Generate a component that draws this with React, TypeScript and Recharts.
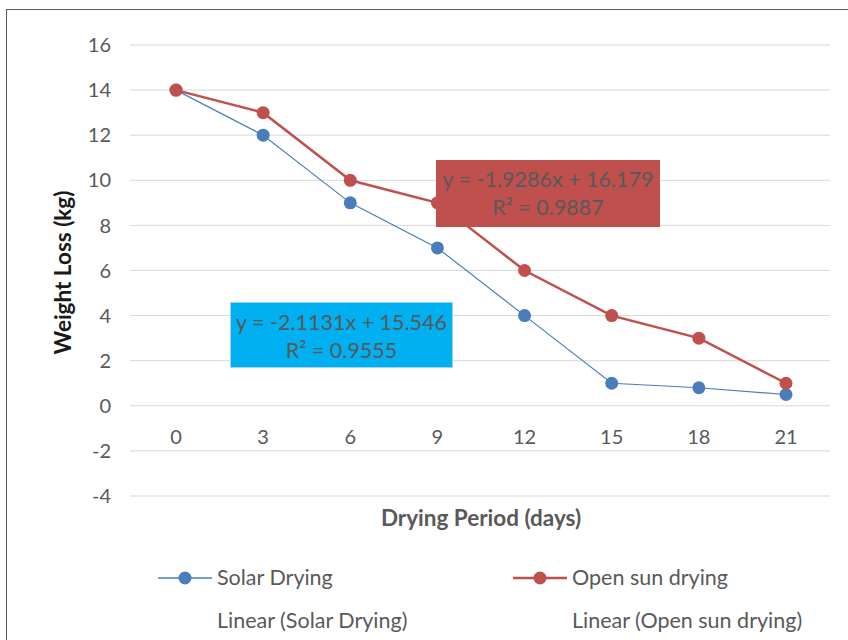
import React from "react";
import { LineChart, Line, XAxis, YAxis, CartesianGrid } from "recharts";

const days = [0, 3, 6, 9, 12, 15, 18, 21];
const solarDrying = [14, 12, 9, 7, 4, 1, 0.8, 0.5];
const openSunDrying = [14, 13, 10, 9, 6, 4, 3, 1];
const yTicks = [-4, -2, 0, 2, 4, 6, 8, 10, 12, 14, 16];
const seriesNames = ["Solar Drying", "Open sun drying"];
const trendNames = ["Linear (Solar Drying)", "Linear (Open sun drying)"];
const solarEq = ["y = -2.1131x + 15.546", "R² = 0.9555"];
const openEq = ["y = -1.9286x + 16.179", "R² = 0.9887"];

const data = days.map((d, i) => ({ day: d, solar: solarDrying[i], open: openSunDrying[i] }));

const FONT = "Lato, 'Open Sans', sans-serif";
const GRAY = "#595959";
const BLUE = "#4a7ebb";
const RED = "#c0504d";

const W = 848;
const H = 640;
const M = { top: 45, right: 18, left: 50, bottom: 114 };
const X_AXIS_H = 30;
const PLOT_H = H - M.top - M.bottom - X_AXIS_H;
const Y_MIN = -4;
const Y_MAX = 16;
const ZERO_OFFSET = (PLOT_H * (0 - Y_MIN)) / (Y_MAX - Y_MIN);

const XTick = (props: any) => {
  const { x, y, payload } = props;
  return (
    <text x={x} y={y - ZERO_OFFSET + 38} textAnchor="middle" fill={GRAY} fontSize={20} fontFamily={FONT}>
      {payload.value}
    </text>
  );
};

const ChartLegend = () => {
  const items = [
    { name: seriesNames[0], trend: trendNames[0], color: BLUE, width: 1.5, x: 158 },
    { name: seriesNames[1], trend: trendNames[1], color: RED, width: 2.5, x: 513 },
  ];
  return (
    <svg width={W} height={90} style={{ position: "absolute", left: 0, top: 555, display: "block" }}>
      {items.map((it) => (
        <g key={it.name}>
          <line x1={it.x} x2={it.x + 54} y1={23} y2={23} stroke={it.color} strokeWidth={it.width} />
          <circle cx={it.x + 27} cy={23} r={6.5} fill={it.color} />
          <text x={it.x + 59} y={30} fill={GRAY} fontSize={21.5} fontFamily={FONT}>
            {it.name}
          </text>
          <text x={it.x + 59} y={73} fill={GRAY} fontSize={21.5} fontFamily={FONT}>
            {it.trend}
          </text>
        </g>
      ))}
    </svg>
  );
};

const boxText: React.CSSProperties = {
  position: "absolute",
  fontFamily: FONT,
  fontSize: 21.5,
  color: GRAY,
  textAlign: "center",
  lineHeight: "28px",
  boxSizing: "border-box",
  paddingTop: 5,
};

export default function App() {
  return (
    <div style={{ position: "fixed", left: 0, top: 0, width: W, height: H, background: "#fff", overflow: "hidden" }}>
      <div
        style={{
          position: "absolute",
          left: 6,
          top: 9,
          width: W,
          height: H,
          borderLeft: "1px solid #5a5a5a",
          borderTop: "1px solid #5a5a5a",
        }}
      />
      <div style={{ position: "absolute", left: 0, top: 0 }}>
        <LineChart width={W} height={H} data={data} margin={M}>
          <CartesianGrid vertical={false} stroke="#d9d9d9" strokeWidth={1} />
          <XAxis
            dataKey="day"
            type="category"
            axisLine={false}
            tickLine={false}
            tickSize={0}
            tickMargin={0}
            height={X_AXIS_H}
            padding={{ left: 46, right: 44 }}
            tick={<XTick />}
            interval={0}
            label={() => (
              <text
                x={481}
                y={526}
                textAnchor="middle"
                fill={GRAY}
                fontSize={22.5}
                fontWeight="bold"
                fontFamily={FONT}
              >
                Drying Period (days)
              </text>
            )}
          />
          <YAxis
            type="number"
            domain={[Y_MIN, Y_MAX]}
            ticks={yTicks}
            width={80}
            axisLine={false}
            tickLine={false}
            tickSize={0}
            tickMargin={19}
            interval={0}
            tick={{ fill: GRAY, fontSize: 20, fontFamily: FONT }}
            label={(props: any) => {
              const vb = props.viewBox;
              const cx = 62;
              const cy = vb.y + vb.height / 2 + 2;
              return (
                <text
                  x={cx}
                  y={cy}
                  textAnchor="middle"
                  dominantBaseline="central"
                  transform={`rotate(-90, ${cx}, ${cy})`}
                  fill="#1a1a1a"
                  fontSize={22.5}
                  fontWeight="bold"
                  fontFamily={FONT}
                >
                  Weight Loss (kg)
                </text>
              );
            }}
          />
          <Line
            dataKey="solar"
            name={seriesNames[0]}
            stroke={BLUE}
            strokeWidth={1.2}
            dot={{ r: 6.5, fill: BLUE, stroke: BLUE, strokeWidth: 0 }}
            isAnimationActive={false}
          />
          <Line
            dataKey="open"
            name={seriesNames[1]}
            stroke={RED}
            strokeWidth={2.5}
            dot={{ r: 6.5, fill: RED, stroke: RED, strokeWidth: 0 }}
            isAnimationActive={false}
          />
        </LineChart>
      </div>
      <ChartLegend />
      <div style={{ ...boxText, left: 436, top: 160, width: 224, height: 67, background: RED }}>
        <div>{openEq[0]}</div>
        <div>{openEq[1]}</div>
      </div>
      <div
        style={{
          ...boxText,
          left: 230,
          top: 302,
          width: 223,
          height: 66,
          background: "#00b0f0",
          border: "1px solid #9bd7f5",
        }}
      >
        <div>{solarEq[0]}</div>
        <div>{solarEq[1]}</div>
      </div>
    </div>
  );
}
